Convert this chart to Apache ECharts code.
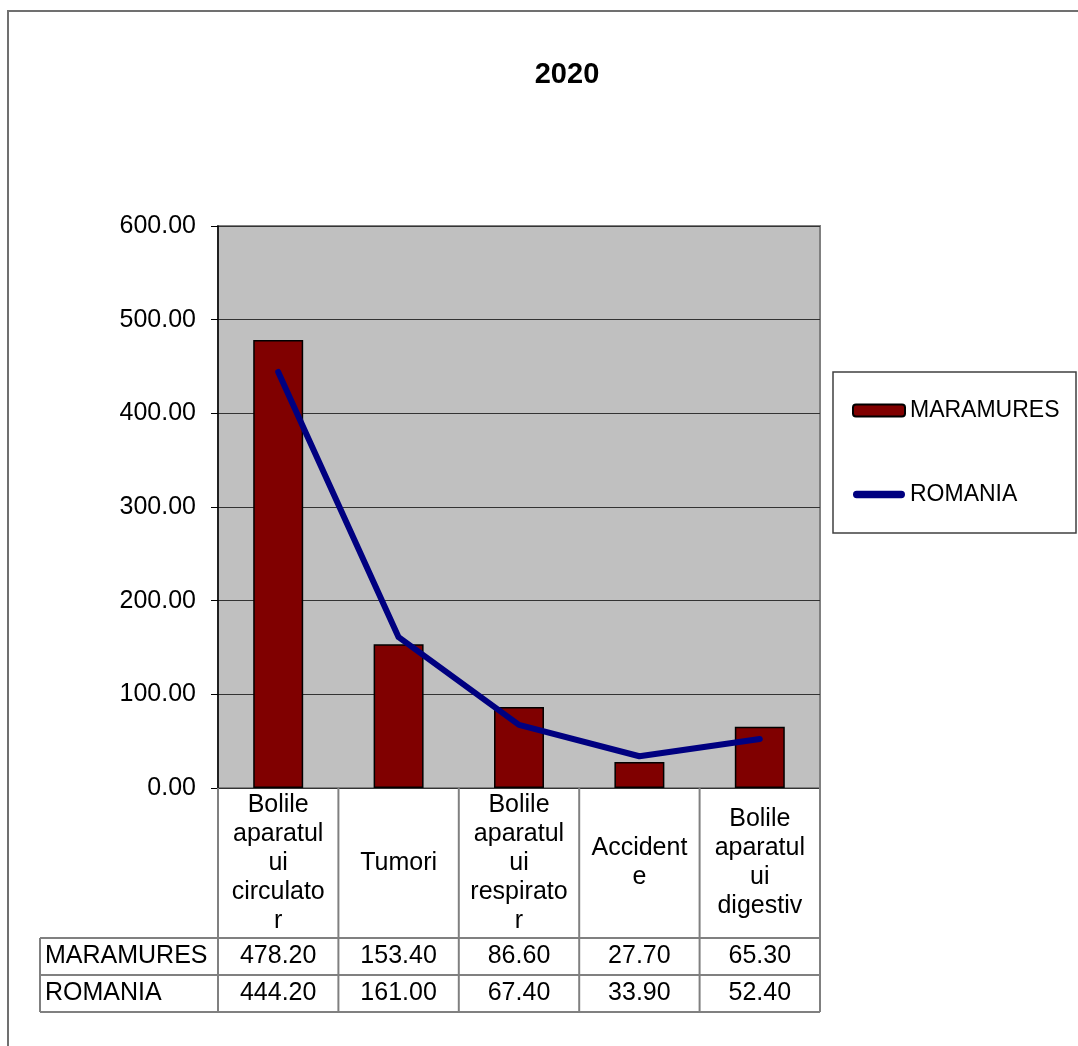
<!DOCTYPE html>
<html>
<head>
<meta charset="utf-8">
<script src="https://cdn.jsdelivr.net/npm/echarts@6/dist/echarts.min.js"></script>
<style>
html,body{margin:0;padding:0;background:#fff;}
#main{width:1078px;height:1046px;}
</style>
</head>
<body>
<div id="main"></div>
<script>
const titleText = '2020';
const categories = [
  'Bolile\naparatul\nui\ncirculato\nr',
  'Tumori',
  'Bolile\naparatul\nui\nrespirato\nr',
  'Accident\ne',
  'Bolile\naparatul\nui\ndigestiv'
];
const seriesNames = ['MARAMURES', 'ROMANIA'];
const maramures = [478.20, 153.40, 86.60, 27.70, 65.30];
const romania = [444.20, 161.00, 67.40, 33.90, 52.40];
const yTicks = [0, 100, 200, 300, 400, 500, 600];

const FONT = '"Liberation Sans", Arial, sans-serif';
const G = {left: 218, top: 226, width: 602, height: 562};
const tableLeft = 40, row1 = 938, row2 = 975, row3 = 1012;
const gridLineColor = '#808080';

const chart = echarts.init(document.getElementById('main'), null, {renderer: 'canvas'});

const option = {
  animation: false,
  backgroundColor: '#ffffff',
  textStyle: {fontFamily: FONT},
  title: {
    text: titleText,
    left: 562,
    top: 55,
    textAlign: 'center',
    textStyle: {fontFamily: FONT, fontSize: 29, fontWeight: 'bold', color: '#000'}
  },
  grid: {
    left: G.left, top: G.top, width: G.width, height: G.height,
    show: true, backgroundColor: '#c0c0c0', borderColor: '#808080', borderWidth: 2,
    containLabel: false
  },
  legend: {
    orient: 'vertical',
    left: 847,
    top: 394,
    itemWidth: 52,
    itemHeight: 12,
    itemGap: 61,
    textStyle: {fontFamily: FONT, fontSize: 23, color: '#000'},
    data: [
      {name: seriesNames[0]},
      {name: seriesNames[1],
       icon: 'path://M4,0 L52,0 A4,4 0 0 1 52,8 L4,8 A4,4 0 0 1 4,0 Z',
       itemStyle: {color: '#000080', borderWidth: 0}}
    ],
    z: 10
  },
  xAxis: {
    type: 'category',
    data: categories,
    axisLine: {show: false},
    axisTick: {show: false},
    axisLabel: {
      interval: 0,
      margin: 75,
      verticalAlign: 'middle',
      fontFamily: FONT,
      fontSize: 25,
      lineHeight: 29,
      color: '#000'
    }
  },
  yAxis: {
    type: 'value',
    min: yTicks[0],
    max: yTicks[yTicks.length - 1],
    interval: 100,
    axisLine: {show: true, lineStyle: {color: '#000', width: 1.5}},
    axisTick: {show: true, length: 7, lineStyle: {color: '#000'}},
    splitLine: {show: true, lineStyle: {color: '#333', width: 1}},
    axisLabel: {
      margin: 22,
      fontFamily: FONT,
      fontSize: 25,
      color: '#000',
      formatter: v => v.toFixed(2)
    }
  },
  series: [
    {
      name: seriesNames[0],
      type: 'bar',
      data: maramures,
      barWidth: '41.5%',
      itemStyle: {color: '#800000', borderColor: '#000', borderWidth: 1.5},
      z: 2
    },
    {
      name: seriesNames[1],
      type: 'line',
      data: romania,
      symbol: 'none',
      showSymbol: false,
      lineStyle: {color: '#000080', width: 6, cap: 'round', join: 'round'},
      itemStyle: {color: '#000080'},
      z: 3
    }
  ]
};

chart.setOption(option);

const graphics = [];
graphics.push({type: 'rect', shape: {x: 8, y: 11, width: 1100, height: 1100},
  style: {fill: 'none', stroke: '#707070', lineWidth: 2}, z: 0, silent: true});
graphics.push({type: 'rect', shape: {x: 833, y: 372, width: 243, height: 161},
  style: {fill: '#fff', stroke: '#404040', lineWidth: 1.5}, z: 1, silent: true});

const right = G.left + G.width;
const bottom = G.top + G.height;
const line = (x1, y1, x2, y2) => graphics.push({type: 'line', shape: {x1, y1, x2, y2},
  style: {stroke: gridLineColor, lineWidth: 2}, z: 5, silent: true});

line(tableLeft, row1, right, row1);
line(tableLeft, row2, right, row2);
line(tableLeft, row3, right, row3);
line(tableLeft, row1, tableLeft, row3);
const step = G.width / categories.length;
for (let k = 0; k <= categories.length; k++) {
  const x = G.left + k * step;
  line(x, bottom, x, row3);
}
const rowData = [maramures, romania];
const rowY = [(row1 + row2) / 2, (row2 + row3) / 2];
seriesNames.forEach((n, r) => {
  graphics.push({type: 'text', x: tableLeft + 5, y: rowY[r],
    style: {text: n, font: '25px ' + FONT, fill: '#000', textAlign: 'left', textVerticalAlign: 'middle'}, z: 6});
  rowData[r].forEach((v, i) => {
    const cx = chart.convertToPixel({xAxisIndex: 0}, i);
    graphics.push({type: 'text', x: cx, y: rowY[r],
      style: {text: v.toFixed(2), font: '25px ' + FONT, fill: '#000', textAlign: 'center', textVerticalAlign: 'middle'}, z: 6});
  });
});

chart.setOption({graphic: graphics});
</script>
</body>
</html>
